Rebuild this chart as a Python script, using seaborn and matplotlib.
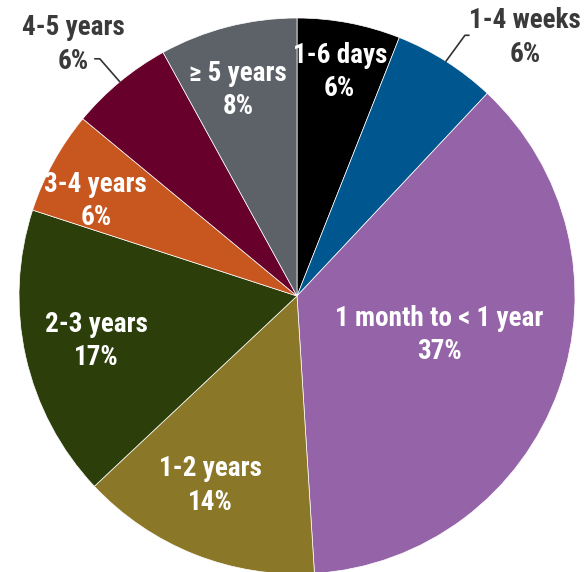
import numpy as np
import matplotlib
matplotlib.use('Agg')
import matplotlib.pyplot as plt
import seaborn as sns

# data
categories = ['1-6 days', '1-4 weeks', '1 month to < 1 year', '1-2 years',
              '2-3 years', '3-4 years', '4-5 years', '\u2265 5 years']
shares = [6, 6, 37, 14, 17, 6, 6, 8]
colors = ['#000000', '#00568f', '#9563a8', '#8a7828',
          '#2c3f0a', '#c8561f', '#68002c', '#5d6268']

# label placement: (radius factor, angle shift in degrees, outside?)
label_pos = [(0.82, 0, False), (1.24, -9, True), (0.53, 4.5, False), (0.75, -3, False),
             (0.74, 0, False), (0.80, 3.6, False), (1.21, 2, True), (0.77, 1.5, False)]

sns.set_theme(style='white')
plt.rcParams['font.family'] = ['Roboto Condensed', 'DejaVu Sans']

fig = plt.figure(figsize=(5.84, 5.72), dpi=100)
ax = fig.add_axes([0, 0, 1, 1])

cx, cy, r = 297, 276, 278
wedges, _ = ax.pie(shares, colors=sns.color_palette(colors), startangle=90, counterclock=False,
                   center=(cx, cy), radius=r, frame=True,
                   wedgeprops=dict(edgecolor='white', linewidth=0.5))
ax.set_xlim(0, 584)
ax.set_ylim(0, 572)
ax.set_aspect('equal')
ax.axis('off')

for w, cat, val, (f, da, outside) in zip(wedges, categories, shares, label_pos):
    mid = (w.theta1 + w.theta2) / 2
    a = np.deg2rad(mid + da)
    tx, ty = cx + f * r * np.cos(a), cy + f * r * np.sin(a)
    txt = f'{cat}\n{val}%'
    if outside:
        ex = cx + r * np.cos(np.deg2rad(mid))
        ey = cy + r * np.sin(np.deg2rad(mid))
        ax.text(tx, ty, txt, ha='center', va='center', color='#3a3a3a',
                fontsize=19.5, fontweight='bold', linespacing=1.3)
        # short leader line from the wedge edge toward the label
        if np.cos(np.deg2rad(mid)) < 0:
            p1 = (ex - 20, ey + 23)
            p0 = (p1[0] - 5, p1[1])
        else:
            p1 = (ex + 19, ey + 26)
            p0 = (p1[0] + 4, p1[1])
        ax.plot([ex, p1[0], p0[0]], [ey, p1[1], p0[1]], color='#333333', lw=1.2)
    else:
        ax.text(tx, ty, txt, ha='center', va='center', color='white',
                fontsize=19.5, fontweight='bold', linespacing=1.3)

fig.savefig('out.png', dpi=100)
